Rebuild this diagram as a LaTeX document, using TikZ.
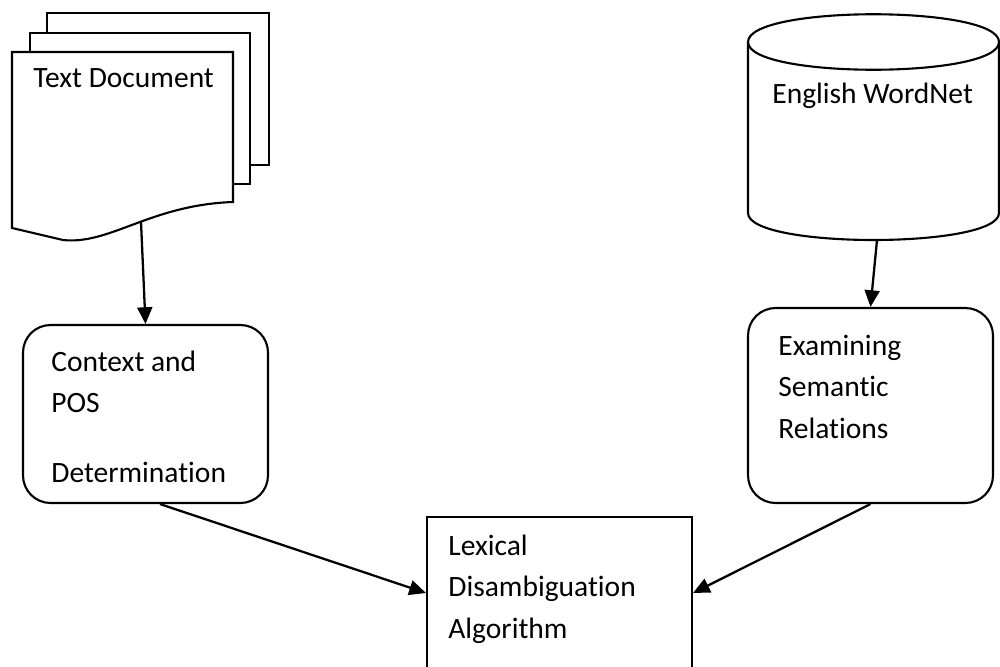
\documentclass[tikz,border=0pt]{standalone}
\usepackage{fontspec}
\setmainfont[Ligatures=NoCommon]{Carlito}
\usetikzlibrary{arrows.meta}

\begin{document}
\begin{tikzpicture}[x=0.02cm, y=-0.02cm,
  shape line/.style={line width=1.2pt},
  stepbox/.style={draw, line width=1.2pt, rounded corners=0.55cm, inner sep=0},
  algbox/.style={draw, line width=1.2pt, inner sep=0},
  label text/.style={anchor=base west, align=left, inner sep=0, font=\fontsize{16.8}{23.5}\selectfont},
  flow/.style={line width=1.3pt, -{Triangle[length=9.5pt,width=8.5pt]}}]
\useasboundingbox (0,0) rectangle (1000,666);

% document stack
\draw[shape line, fill=white] (47,13) rectangle (269,165);
\draw[shape line, fill=white] (30,33) rectangle (250,184);
\draw[shape line, fill=white] (12,52) -- (233,52) -- (233,202)
  .. controls (150,205) and (110,245) .. (63,240) -- (12,228) -- cycle;
\node[label text] (doc) at (33,87) {Text Document};
\coordinate (docout) at (141,222);

% database
\draw[shape line] (748,42) -- (748,213) .. controls (748,249) and (999,249) .. (999,213) -- (999,42);
\draw[shape line] (748,42) .. controls (748,5) and (999,5) .. (999,42)
  .. controls (999,79) and (748,79) .. (748,42);
\node[label text] (wn) at (772,103) {English WordNet};
\coordinate (wnout) at (877,240);

% base anchor sits on the last line
\node[stepbox, minimum width=4.9cm, minimum height=3.56cm] (ctx) at (145.5,414) {};
\node[label text] (ctxtext) at (51,482) {Context and\\POS\\[16pt]Determination};

\node[stepbox, minimum width=4.9cm, minimum height=3.9cm] (ex) at (870.5,405.5) {};
\node[label text] (extext) at (778,438) {Examining\\Semantic\\Relations};

\node[algbox, minimum width=5.3cm, minimum height=3.04cm] (lex) at (559.5,593) {};
\node[label text] (lextext) at (448,638) {Lexical\\Disambiguation\\Algorithm};

\draw[flow] (docout) -- (ctx.north);
\draw[flow] (wnout) -- (ex.north);
\draw[flow] ([xshift=0.29cm]ctx.south) -- (lex.west);
\draw[flow] (ex.south) -- (lex.east);
\end{tikzpicture}
\end{document}
